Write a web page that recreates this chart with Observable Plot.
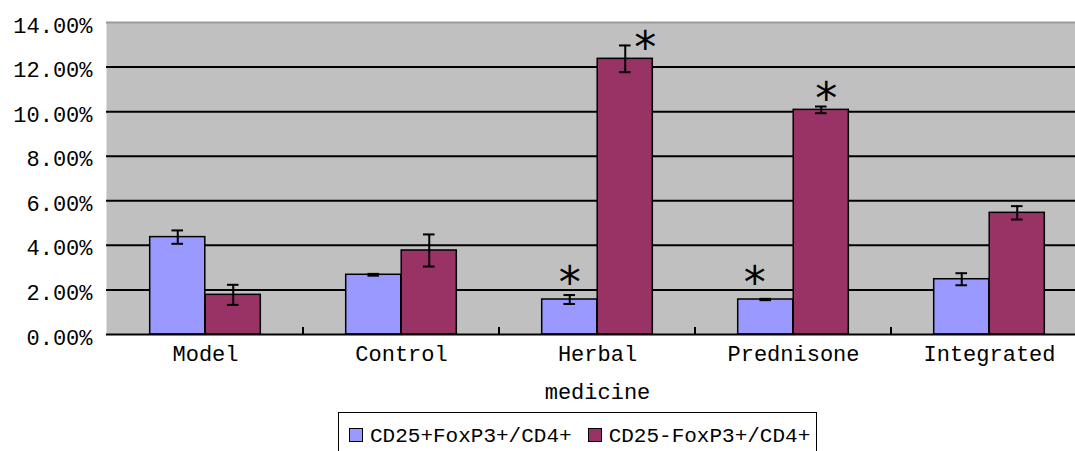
<!DOCTYPE html>
<html>
<head>
<meta charset="utf-8">
<script src="https://cdn.jsdelivr.net/npm/d3@7"></script>
<script src="https://cdn.jsdelivr.net/npm/@observablehq/plot@0.6"></script>
<style>
  html, body { margin: 0; padding: 0; background: #fff; overflow: hidden; }
  #wrap { position: relative; width: 1075px; height: 451px; }
  #legend {
    position: absolute; left: 338px; top: 412px; width: 479px; height: 60px;
    border: 1.5px solid #000; box-sizing: border-box; background: #fff;
    font-family: "Liberation Mono", monospace; font-size: 21px; color: #000;
    padding: 12px 0 0 10px; white-space: nowrap;
  }
  .sw { display: inline-block; width: 12px; height: 12px; border: 1.5px solid #000; margin-right: 7px; vertical-align: 0px; }
  .item { display: inline-block; margin-right: 16px; }
</style>
</head>
<body>
<div id="wrap"><div id="chart"></div><div id="legend"></div></div>
<script>
// ---- data ----
const categories = ["Model", "Control", "Herbal\nmedicine", "Prednisone", "Integrated"];
const seriesNames = ["CD25+FoxP3+/CD4+", "CD25-FoxP3+/CD4+"];
const seriesColors = ["#9999ff", "#993366"];
const valuesA = [4.37, 2.68, 1.57, 1.57, 2.48];   // CD25+FoxP3+/CD4+ (%)
const errorsA = [0.30, 0.04, 0.20, 0.03, 0.27];
const valuesB = [1.78, 3.77, 12.37, 10.08, 5.46]; // CD25-FoxP3+/CD4+ (%)
const errorsB = [0.45, 0.72, 0.60, 0.15, 0.30];
const significantA = [false, false, true, true, false];
const significantB = [false, false, true, true, false];
const yTicks = [0, 2, 4, 6, 8, 10, 12, 14];

// ---- layout ----
const W = 1075, H = 410;
const mL = 106, mR = -13, mT = 22, mB = 76;
const band = (W - mL - mR) / categories.length;
const barW = 55.5;
const capW = 12;
// annotation nudges for asterisks (pixels), per series, per category
const starNudgeX = [[0, 0, 0, -11, 0], [0, 0, 20, 5, 0]];
const starNudgeY = [[0, 0, 0, -4, 0], [0, 0, 15, 4, 0]];

const series = [
  {name: seriesNames[0], color: seriesColors[0], values: valuesA, errors: errorsA, sig: significantA},
  {name: seriesNames[1], color: seriesColors[1], values: valuesB, errors: errorsB, sig: significantB}
];

const marks = [
  Plot.frame({fill: "#c0c0c0", stroke: null}),
  Plot.ruleY(yTicks.filter(d => d > 0 && d < 14), {stroke: "#000", strokeWidth: 2}),
  Plot.ruleY([14], {stroke: "#9a9a9a", strokeWidth: 2}),
];

series.forEach((s, i) => {
  const rows = categories.map((c, j) => ({cat: c, value: s.values[j], err: s.errors[j], sig: s.sig[j], j}));
  const dx = (i === 0 ? -1 : 1) * barW / 2;
  const inL = band / 2 + dx - barW / 2;
  const inR = band - inL - barW;
  marks.push(
    Plot.barY(rows, {x: "cat", y: "value", fill: s.color, stroke: "#000", strokeWidth: 1.5, insetLeft: inL, insetRight: inR}),
    Plot.ruleX(rows, {x: "cat", y1: d => d.value - d.err, y2: d => d.value + d.err, dx, stroke: "#000", strokeWidth: 2}),
    Plot.tickY(rows, {x: "cat", y: d => d.value + d.err, stroke: "#000", strokeWidth: 2, insetLeft: band / 2 + dx - capW / 2, insetRight: band / 2 - dx - capW / 2}),
    Plot.tickY(rows, {x: "cat", y: d => d.value - d.err, stroke: "#000", strokeWidth: 2, insetLeft: band / 2 + dx - capW / 2, insetRight: band / 2 - dx - capW / 2})
  );
  rows.filter(d => d.sig).forEach(d => {
    marks.push(Plot.text([d], {x: "cat", y: r => r.value + r.err, text: () => "*",
      dx: dx + starNudgeX[i][d.j], dy: 3 + starNudgeY[i][d.j],
      fontSize: 44, fontFamily: "DejaVu Sans", lineAnchor: "bottom", fill: "#000"}));
  });
});

marks.push(
  Plot.ruleX([0], {stroke: "#000", strokeWidth: 2}),
  Plot.ruleY([0], {stroke: "#000", strokeWidth: 2}),
  Plot.axisY({ticks: yTicks, tickSize: 0, tickPadding: 14, tickFormat: d => d.toFixed(2) + "%", fontSize: 22, dy: 3}),
  Plot.axisX({tickSize: 0, tickPadding: -1, fontSize: 22, lineHeight: 1.75})
);

const chart = Plot.plot({
  width: W, height: H,
  marginLeft: mL, marginRight: mR, marginTop: mT, marginBottom: mB,
  style: {fontFamily: "'Liberation Mono', monospace", background: "transparent", color: "#000"},
  x: {domain: categories, padding: 0, label: null},
  y: {domain: [0, 14], label: null},
  marks
});
document.getElementById("chart").appendChild(chart);

// boundary ticks between categories (inside, upward) from the x scale
const xs = chart.scale("x");
const svg = d3.select(chart);
categories.forEach((c, j) => {
  if (j === 0) return;
  const bx = xs.apply(c);
  svg.append("line").attr("x1", bx).attr("x2", bx).attr("y1", H - mB).attr("y2", H - mB - 7).attr("stroke", "#000").attr("stroke-width", 2);
});

const lg = document.getElementById("legend");
series.forEach(s => {
  const it = document.createElement("span");
  it.className = "item";
  it.innerHTML = `<span class="sw" style="background:${s.color}"></span>${s.name}`;
  lg.appendChild(it);
});
</script>
</body>
</html>
